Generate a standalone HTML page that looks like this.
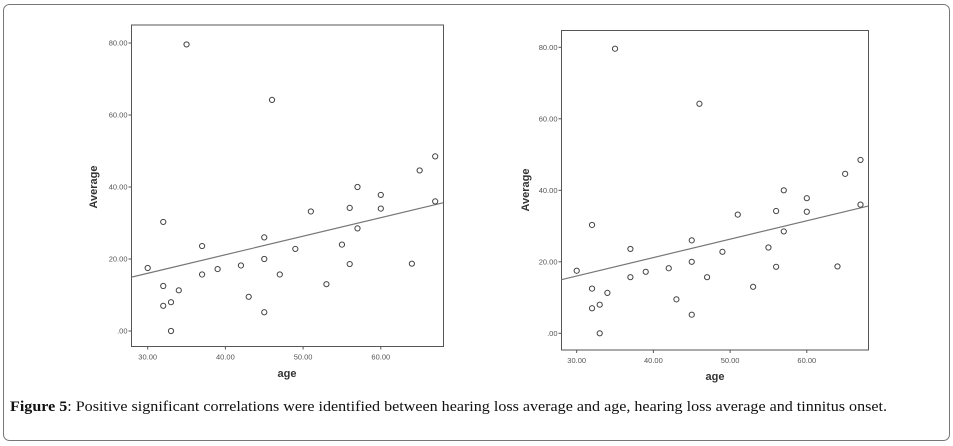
<!DOCTYPE html>
<html><head><meta charset="utf-8"><style>
html,body{margin:0;padding:0;background:#fff;}
svg{display:block;font-family:"Liberation Sans",sans-serif;}
</style></head><body>
<svg id="fig" width="953" height="446" viewBox="0 0 953 446">
<rect x="3.5" y="4.5" width="946" height="436" rx="6" fill="#fff" stroke="#777" stroke-width="1"/>
<text x="10" y="411" font-family="Liberation Serif, serif" font-size="15" fill="#111" textLength="877" lengthAdjust="spacingAndGlyphs"><tspan font-weight="bold">Figure 5</tspan>: Positive significant correlations were identified between hearing loss average and age, hearing loss average and tinnitus onset.</text>
</svg>
<script>
const ages=[30,32,32,32,33,33,34,35,37,37,39,42,43,45,45,45,46,47,49,51,53,55,56,56,57,57,60,60,64,65,67,67];
const averages=[17.5,30.3,12.5,7,8,0,11.3,79.6,23.6,15.7,17.2,18.2,9.5,26,20,5.2,64.2,15.7,22.8,33.2,13,24,34.2,18.6,40,28.5,37.8,34,18.7,44.6,48.5,36];
const xTicks=[30,40,50,60];
const xTickLabels=["30.00","40.00","50.00","60.00"];
const yTicks=[0,20,40,60,80];
const yTickLabels=[".00","20.00","40.00","60.00","80.00"];
const fitSlope=0.515, fitIntercept=0.58;
const xDomain=[28,68];

const NS="http://www.w3.org/2000/svg";
const svg=document.getElementById('fig');
function mk(tag,attrs,parent){const e=document.createElementNS(NS,tag);for(const k in attrs)e.setAttribute(k,attrs[k]);(parent||svg).appendChild(e);return e;}

function chart(cfg,prefix){
  const g=mk('g',{});
  
  
  const sx=v=>cfg.x30+(v-30)*cfg.xs;
  const sy=v=>cfg.y0-v*cfg.ys;
  const box=mk('rect',{x:cfg.left,y:cfg.top,width:cfg.right-cfg.left,height:cfg.bottom-cfg.top,fill:'none',stroke:'#555','stroke-width':1},g);
  
  
  xTicks.forEach((t,i)=>{
    const l=mk('line',{x1:sx(t),x2:sx(t),y1:cfg.bottom,y2:cfg.bottom+3,stroke:'#555'},g);
    
    
    const tx=mk('text',{x:sx(t),y:cfg.bottom+13,'font-size':7.5,fill:'#555','text-anchor':'middle'},g);
    tx.textContent=xTickLabels[i];
    
    
  });
  yTicks.forEach((t,i)=>{
    const l=mk('line',{x1:cfg.left-3,x2:cfg.left,y1:sy(t),y2:sy(t),stroke:'#555'},g);
    
    
    const tx=mk('text',{x:cfg.left-4,y:sy(t)+2.5,'font-size':7.5,fill:'#555','text-anchor':'end'},g);
    tx.textContent=yTickLabels[i];
    
    
  });
  const fl=mk('line',{x1:sx(xDomain[0]),y1:sy(fitSlope*xDomain[0]+fitIntercept),x2:sx(xDomain[1]),y2:sy(fitSlope*xDomain[1]+fitIntercept),stroke:'#777','stroke-width':1.2},g);
  
  
  ages.forEach((a,i)=>{
    const c=mk('circle',{cx:sx(a),cy:sy(averages[i]),r:2.6,fill:'none',stroke:'#444','stroke-width':1},g);
    
    
  });
  const xl=mk('text',{x:cfg.xlabX,y:cfg.xlabY,'font-size':11,'font-weight':'bold',fill:'#333','text-anchor':'middle'},g);
  xl.textContent='age';
  
  
  const yl=mk('text',{x:0,y:0,'font-size':11,'font-weight':'bold',fill:'#333','text-anchor':'middle',transform:`translate(${cfg.ylabX},${cfg.ylabY}) rotate(-90)`},g);
  yl.textContent='Average';
  
  
}
chart({left:131.5,right:443.5,top:25,bottom:346.5,x30:147.7,xs:7.77,y0:331,ys:3.6,xlabX:287,xlabY:377,ylabX:97,ylabY:187},'left');
chart({left:561.5,right:868.5,top:30.5,bottom:350,x30:576.7,xs:7.67,y0:333.3,ys:3.575,xlabX:715,xlabY:380,ylabX:529,ylabY:190},'right');
</script>
</body></html>
